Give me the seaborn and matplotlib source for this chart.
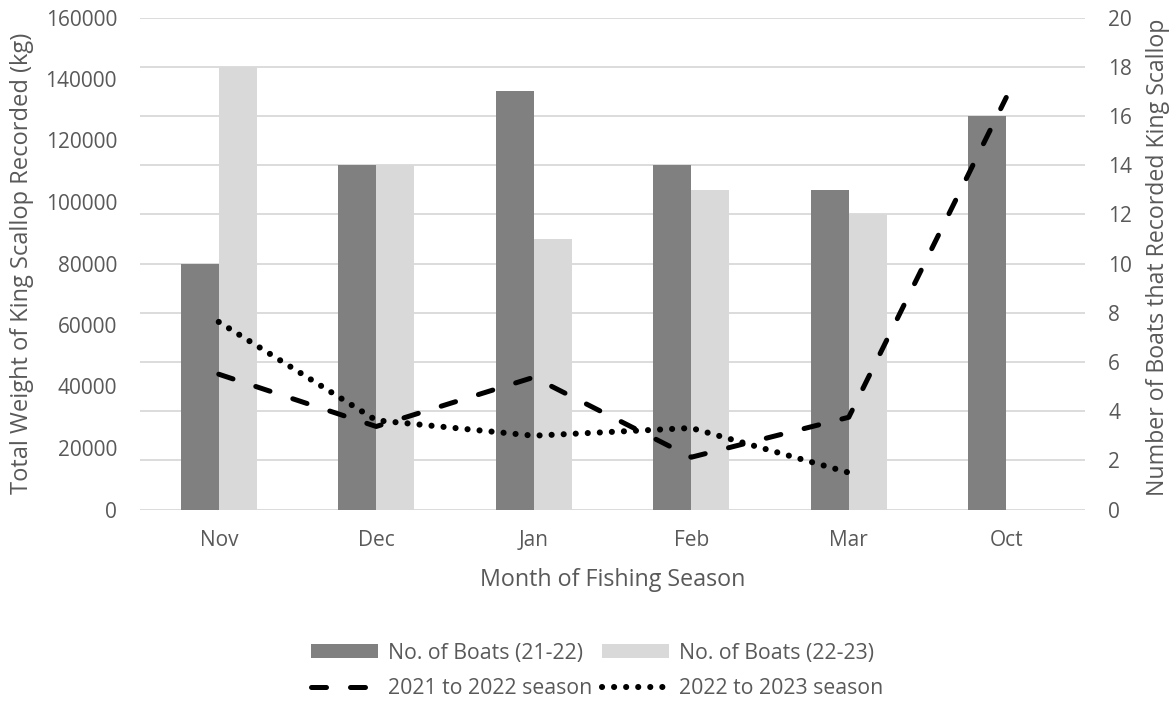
import numpy as np
import pandas as pd
import matplotlib
matplotlib.use("Agg")
import matplotlib.pyplot as plt
import seaborn as sns
from matplotlib.patches import Patch
from matplotlib.lines import Line2D

# ---------------- data ----------------
categories = ["Nov", "Dec", "Jan", "Feb", "Mar", "Oct"]
boats_21_22 = [10, 14, 17, 14, 13, 16]
boats_22_23 = [18, 14, 11, 13, 12, np.nan]
weight_21_22 = [44000, 27000, 43000, 17000, 30000, 134000]
weight_22_23 = [61000, 29000, 24000, 26500, 12000, np.nan]

bar_labels = ["No. of Boats (21-22)", "No. of Boats (22-23)"]
line_labels = ["2021 to 2022 season", "2022 to 2023 season"]
left_ticks = list(range(0, 160001, 20000))
right_ticks = list(range(0, 21, 2))

xlabel = "Month of Fishing Season"
ylabel_left = "Total Weight of King Scallop Recorded (kg)"
ylabel_right = "Number of Boats that Recorded King Scallop"

# ---------------- style ----------------
sns.set_theme(style="white")
FONT = "Open Sans"
plt.rcParams["font.family"] = [FONT, "DejaVu Sans"]
TEXT = "#595959"
DARK = "#808080"
LIGHT = "#d9d9d9"
GRID = "#d9d9d9"

DASH_LW = 3.6
DOT_LW = 4.4
DASH_PATTERN = (3.0, 4.8)                  # in units of line width
DOT_PATTERN = (0.01, 12 * 0.72 / DOT_LW)   # 12 px spacing

W, H = 1175, 709
fig = plt.figure(figsize=(W / 100, H / 100), dpi=100)
fig.patch.set_facecolor("white")
renderer = fig.canvas.get_renderer()


def size_for(s, target_px, base=12.0):
    t = fig.text(0, 0, s, fontsize=base)
    w = t.get_window_extent(renderer).width
    t.remove()
    return base * target_px / w


def height_px(s, size):
    t = fig.text(0, 0, s, fontsize=size)
    h = t.get_window_extent(renderer).height
    t.remove()
    return h


tick_fs = size_for("160000", 72)
xlabel_fs = size_for(xlabel, 265)
yl_fs = size_for(ylabel_left, 460)
yr_fs = size_for(ylabel_right, 475)
leg_fs = size_for(bar_labels[0], 194)

ax_left, ax_right, ax_top, ax_bot = 140, 1085, 17.5, 509.5
ax = fig.add_axes([ax_left / W, 1 - ax_bot / H, (ax_right - ax_left) / W, (ax_bot - ax_top) / H])
axL = ax.twinx()

# ---------------- bars (right axis scale) ----------------
bars_df = pd.DataFrame({
    "Month": categories * 2,
    "Boats": boats_21_22 + boats_22_23,
    "Series": [bar_labels[0]] * len(categories) + [bar_labels[1]] * len(categories),
})
sns.barplot(data=bars_df, x="Month", y="Boats", hue="Series", order=categories,
            hue_order=bar_labels, palette=[DARK, LIGHT], width=0.48, gap=0,
            saturation=1, errorbar=None, linewidth=0, legend=False, ax=ax)

# ---------------- lines (left axis scale) ----------------
pos = np.arange(len(categories))
lines_df = pd.DataFrame({
    "pos": np.concatenate([pos, pos]),
    "Weight": weight_21_22 + weight_22_23,
    "Season": [line_labels[0]] * len(categories) + [line_labels[1]] * len(categories),
})
dash_styles = {line_labels[0]: DASH_PATTERN, line_labels[1]: DOT_PATTERN}
sns.lineplot(data=lines_df, x="pos", y="Weight", style="Season", style_order=line_labels,
             dashes=dash_styles, color="black", linewidth=DASH_LW, estimator=None,
             sort=False, legend=False, ax=axL)
for ln in axL.lines:
    ln.set_dash_capstyle("round")
    ln.set_solid_capstyle("round")
# dotted series slightly heavier (pattern defined in line-width units)
axL.lines[1].set_linewidth(DOT_LW)
axL.lines[1].set_dashes(DOT_PATTERN)

# ---------------- axes ----------------
ax.set_xlim(-0.5, len(categories) - 0.5)
ax.set_ylim(0, 20)
ax.set_yticks(right_ticks)
ax.yaxis.tick_right()
ax.yaxis.set_label_position("right")
axL.set_ylim(0, 160000)
axL.set_yticks(left_ticks)
axL.set_yticklabels([str(v) for v in left_ticks])
axL.yaxis.tick_left()
axL.yaxis.set_label_position("left")

ax.set_xticks(pos)
ax.set_xticklabels(categories)

ax.grid(axis="y", color=GRID, linewidth=1.3)
ax.grid(axis="x", visible=False)
ax.set_axisbelow(True)
axL.grid(False)
for a in (ax, axL):
    for sp in a.spines.values():
        sp.set_visible(False)
    a.set_facecolor("none")

pad_y = 23 * 0.72
ax.tick_params(axis="y", length=0, labelsize=tick_fs, labelcolor=TEXT, pad=pad_y)
ax.tick_params(axis="x", length=0, labelsize=tick_fs, labelcolor=TEXT, pad=15)
axL.tick_params(axis="y", length=0, labelsize=tick_fs, labelcolor=TEXT, pad=pad_y)
for lab in ax.get_yticklabels():
    lab.set_ha("left")

ax.set_xlabel(xlabel, fontsize=xlabel_fs, color=TEXT)
ax.xaxis.label.set_va("center")
ax.xaxis.set_label_coords(0.5, (ax_bot - 580) / (ax_bot - ax_top))

axL.set_ylabel(ylabel_left, fontsize=yl_fs, color=TEXT, rotation=90)
axL.yaxis.label.set_va("center")
axL.yaxis.label.set_ha("center")
axL.yaxis.set_label_coords((22 - ax_left) / (ax_right - ax_left), 0.5)

ax.set_ylabel(ylabel_right, fontsize=yr_fs, color=TEXT, rotation=90)
ax.yaxis.label.set_va("center")
ax.yaxis.label.set_ha("center")
ax.yaxis.set_label_coords((1158 - ax_left) / (ax_right - ax_left), (ax_bot - 257) / (ax_bot - ax_top))

# ---------------- legend ----------------
handles = [
    Patch(facecolor=DARK, edgecolor="none", label=bar_labels[0]),
    Line2D([], [], color="black", linewidth=DASH_LW, dashes=DASH_PATTERN,
           dash_capstyle="round", label=line_labels[0]),
    Patch(facecolor=LIGHT, edgecolor="none", label=bar_labels[1]),
    Line2D([], [], color="black", linewidth=DOT_LW, dashes=DOT_PATTERN,
           dash_capstyle="round", label=line_labels[1]),
]
th = height_px(bar_labels[0], leg_fs) * 0.72  # text height in points
row_pitch_pt = 36 * 0.72
leg = fig.legend(handles=handles, ncol=2, loc="center left",
                 bbox_to_anchor=(311 / W, 1 - 671 / H), frameon=False,
                 fontsize=leg_fs, borderpad=0, borderaxespad=0,
                 handlelength=67 * 0.72 / leg_fs, handleheight=14 * 0.72 / leg_fs,
                 handletextpad=10 * 0.72 / leg_fs, columnspacing=10 * 0.72 / leg_fs,
                 labelspacing=(row_pitch_pt - th) / leg_fs)
for t in leg.get_texts():
    t.set_color(TEXT)

fig.savefig("out.png", dpi=100, facecolor="white")
